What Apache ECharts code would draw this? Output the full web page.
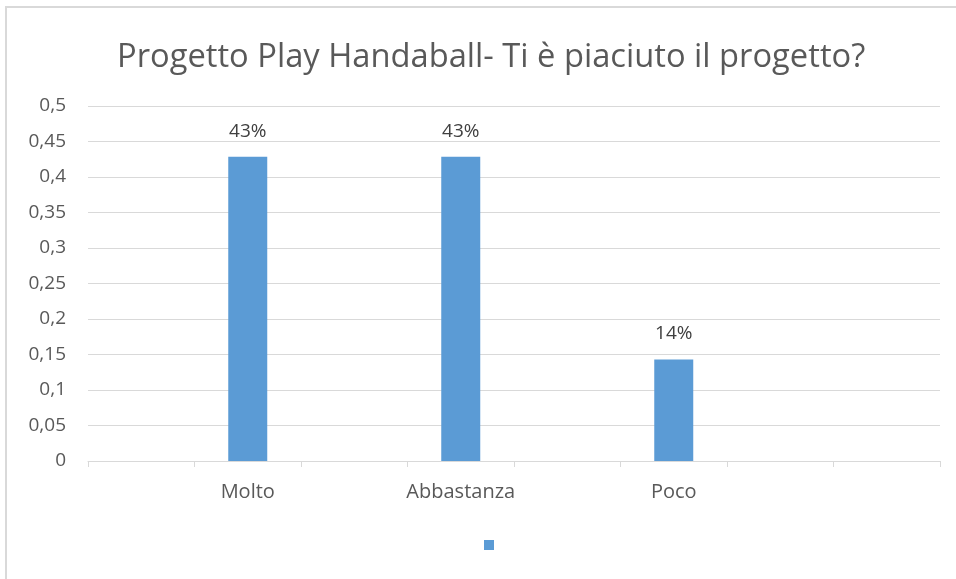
<!DOCTYPE html>
<html>
<head>
<meta charset="utf-8">
<script src="https://cdn.jsdelivr.net/npm/echarts@6/dist/echarts.min.js"></script>
<style>
    html, body { margin: 0; padding: 0; background: #fff; }
    #main { width: 956px; height: 579px; position: relative; }
    #frame { position: absolute; left: 5px; top: 6px; right: -4px; bottom: -4px; border-left: 2px solid #d9d9d9; border-top: 2px solid #d9d9d9; }
</style>
</head>
<body>
<div id="main"></div>
<div id="frame" style="position:absolute;"></div>
<script>
// 类目（空类目用来占位）
let categories = ['', 'Molto', '', 'Abbastanza', '', 'Poco', '', ''];
let values = [null, 0.4286, null, 0.4286, null, 0.1429, null, null];
let yTicks = [0, 0.05, 0.1, 0.15, 0.2, 0.25, 0.3, 0.35, 0.4, 0.45, 0.5];
let chartTitle = 'Progetto Play Handaball- Ti è piaciuto il progetto?';

let myChart = echarts.init(document.getElementById('main'));
let textColor = '#595959';
let option = {
    title: {
        text: chartTitle,
        left: 112,
        top: 36,
        textStyle: {
            fontFamily: 'Open Sans',
            fontSize: 32.7,
            fontWeight: 'normal',
            color: textColor
        }
    },
    grid: {
        left: 88,
        right: 16,
        top: 106,
        bottom: 118
    },
    legend: {
        left: 479,
        top: 535,
        itemWidth: 10,
        itemHeight: 10,
        icon: 'rect',
        data: [' '],
        textStyle: { fontSize: 1 }
    },
    xAxis: {
        type: 'category',
        data: categories,
        axisLine: { lineStyle: { color: '#d9d9d9', width: 1 } },
        axisTick: { show: true, length: 6, lineStyle: { color: '#d9d9d9' } },
        axisLabel: {
            fontFamily: 'Open Sans',
            fontSize: 20,
            color: textColor,
            margin: 21,
            interval: 0
        }
    },
    yAxis: {
        type: 'value',
        min: 0,
        max: yTicks[yTicks.length - 1],
        interval: 0.05,
        axisLine: { show: false },
        axisTick: { show: false },
        splitLine: { lineStyle: { color: '#d9d9d9' } },
        axisLabel: {
            fontFamily: 'Open Sans',
            fontSize: 19,
            color: textColor,
            margin: 22,
            formatter: function (v) {
                return String(+v.toFixed(2)).replace('.', ',');
            }
        }
    },
    series: [{
        name: ' ',
        type: 'bar',
        data: values,
        barWidth: 39,
        itemStyle: { color: '#5b9bd5' },
        label: {
            show: true,
            position: 'top',
            distance: 16,
            fontFamily: 'Open Sans',
            fontSize: 19,
            color: '#404040',
            formatter: function (p) {
                return Math.round(p.value * 100) + '%';
            }
        }
    }]
};
myChart.setOption(option);
</script>
</body>
</html>
